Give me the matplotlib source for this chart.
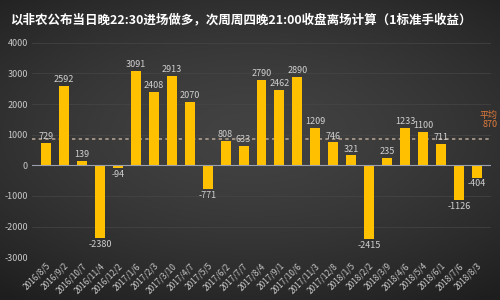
import numpy as np
import matplotlib
matplotlib.use('Agg')
import matplotlib.pyplot as plt

plt.rcParams['font.family'] = ['Noto Sans CJK SC', 'DejaVu Sans']

dates = ['2016/8/5', '2016/9/2', '2016/10/7', '2016/11/4', '2016/12/2',
         '2017/1/6', '2017/2/3', '2017/3/10', '2017/4/7', '2017/5/5',
         '2017/6/2', '2017/7/7', '2017/8/4', '2017/9/1', '2017/10/6',
         '2017/11/3', '2017/12/8', '2018/1/5', '2018/2/2', '2018/3/9',
         '2018/4/6', '2018/5/4', '2018/6/1', '2018/7/6', '2018/8/3']
profits = [729, 2592, 139, -2380, -94, 3091, 2408, 2913, 2070, -771,
           808, 633, 2790, 2462, 2890, 1209, 746, 321, -2415, 235,
           1233, 1100, 711, -1126, -404]
avg_profit = 870
y_ticks = [-3000, -2000, -1000, 0, 1000, 2000, 3000, 4000]
title = '以非农公布当日晚22:30进场做多，次周周四晚21:00收盘离场计算（1标准手收益）'

fig = plt.figure(figsize=(5, 3), dpi=100)

# dark background with a soft vignette
bg = fig.add_axes([0, 0, 1, 1])
yy, xx = np.mgrid[-1:1:300j, -1:1:500j]
r = np.sqrt(xx**2 * 0.7 + (yy + 0.1)**2)
shade = np.clip(0.26 - 0.09 * r**1.5, 0.12, 0.3)
bg.imshow(np.dstack([shade] * 3), aspect='auto', extent=[0, 1, 0, 1])
bg.axis('off')

ax = fig.add_axes([0.064, 0.143, 0.918, 0.714])
ax.patch.set_alpha(0)
x = np.arange(len(dates))
ax.bar(x, profits, width=0.55, color='#FFC000', zorder=3)

for xi, v in zip(x, profits):
    if v >= 0:
        ax.text(xi, v + 60, str(v), ha='center', va='bottom', fontsize=6.5, color='#d0d0d0')
    else:
        ax.text(xi, v - 60, str(v), ha='center', va='top', fontsize=6.5, color='#d0d0d0')

ax.axhline(avg_profit, color='#b0a090', linestyle=(0, (2, 2)), linewidth=1.2, zorder=2)
# average label sits at the right edge of the figure
label_y = ax.transData.transform((0, avg_profit + 60))[1] / fig.bbox.height
fig.text(0.995, label_y, '平均\n870', color='#e07a3a', fontsize=6.5,
         ha='right', va='bottom', linespacing=1.0)

ax.axhline(0, color='#9aa0b0', linewidth=0.8, zorder=4)
ax.set_xlim(-0.8, len(dates) - 0.2)
ax.set_ylim(-3000, 4000)
ax.set_yticks(y_ticks)
ax.set_yticklabels([str(t) for t in y_ticks], fontsize=6.5, color='#c8c8c8')
ax.grid(axis='y', color='#464646', linewidth=0.5, zorder=0)

ax.set_xticks(x)
ax.set_xticklabels(dates, rotation=45, ha='right', rotation_mode='anchor',
                   fontsize=6, color='#c8c8c8')
ax.tick_params(axis='both', length=0, pad=3)
for s in ax.spines.values():
    s.set_visible(False)

fig.text(0.02, 0.935, title, color='white', fontsize=9, fontweight='bold',
         ha='left', va='center')

fig.savefig('out.png', dpi=100)
